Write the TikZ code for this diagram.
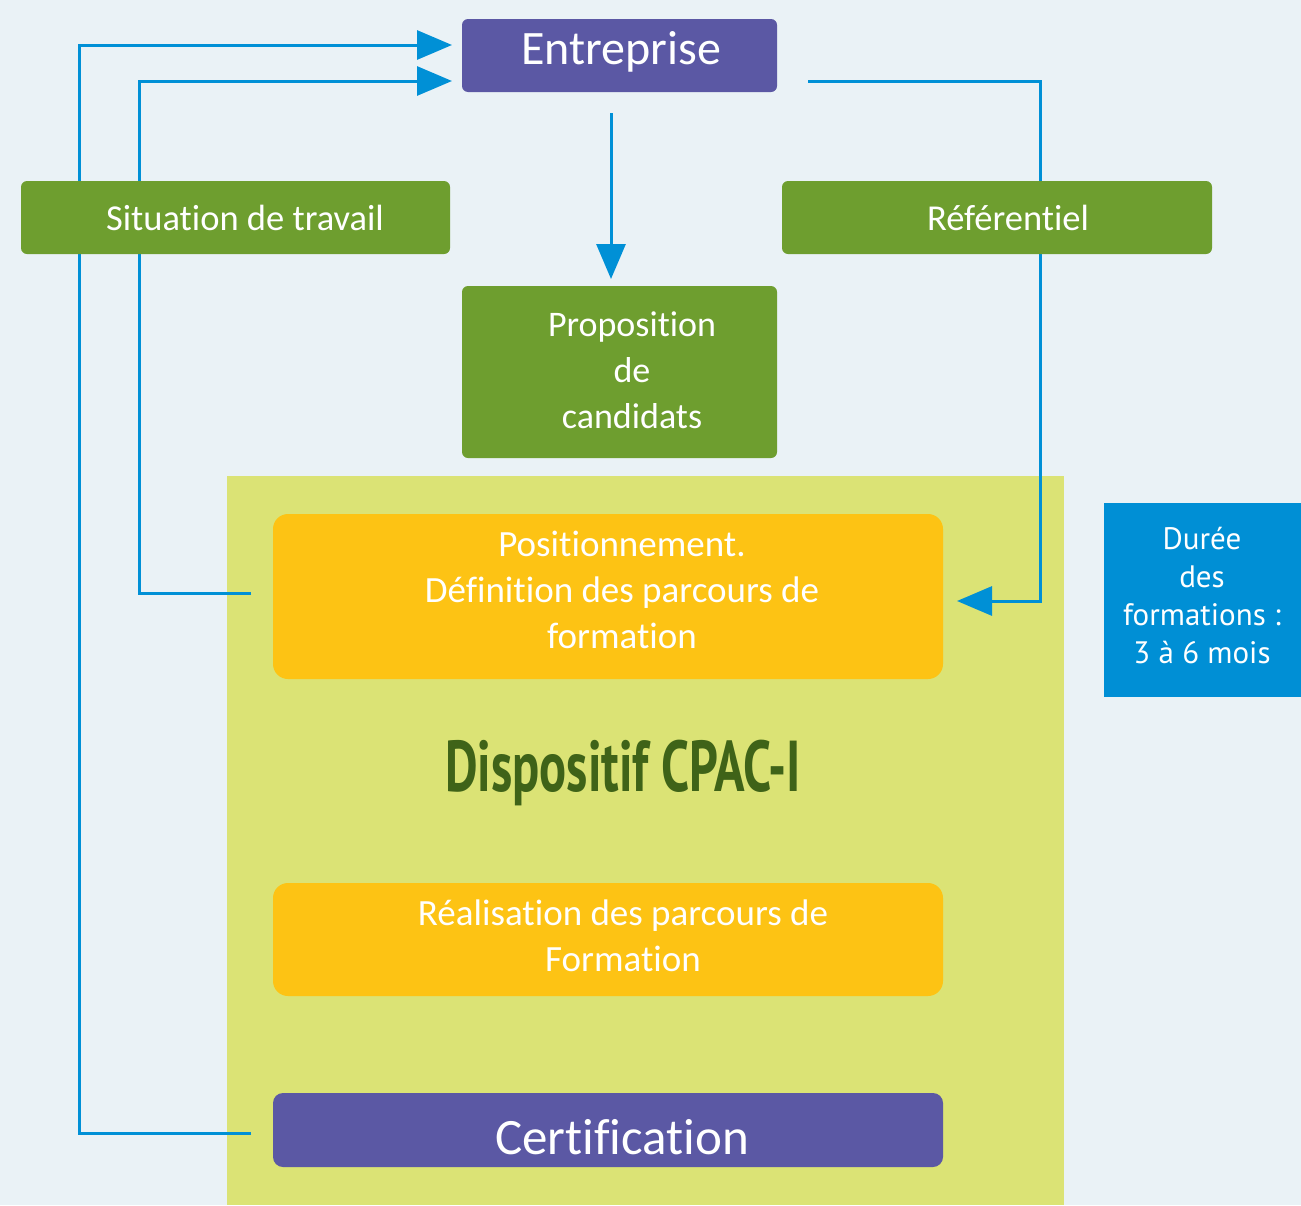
\documentclass[tikz,border=0pt]{standalone}
\usepackage{fontspec}
\setmainfont{Carlito}[Ligatures={NoCommon}]
\newfontfamily\durfont{PT Sans}
\usetikzlibrary{arrows.meta}
\definecolor{bgc}{HTML}{EAF2F6}
\definecolor{dispc}{HTML}{DBE375}
\definecolor{purp}{HTML}{5B58A4}
\definecolor{grn}{HTML}{6E9E2F}
\definecolor{orng}{HTML}{FDC314}
\definecolor{blu}{HTML}{008FD5}
\definecolor{dgrn}{HTML}{3F6318}
\definecolor{lnk}{HTML}{0090D6}
\tikzset{
  box/.style={inner sep=0pt, outer sep=0pt, rounded corners=6pt},
  purplebox/.style={box, fill=purp},
  greenbox/.style={box, fill=grn},
  orangebox/.style={box, fill=orng, rounded corners=15pt},
  txt/.style={text=white, align=center, inner sep=0pt},
  conn/.style={draw=lnk, line width=3pt},
  arr/.style={conn, -{Triangle[length=35pt,width=29pt]}}
}
\begin{document}
\begin{tikzpicture}[x=1pt,y=-1pt]
\fill[bgc] (0,0) rectangle (1301,1205);
\useasboundingbox (0,0) rectangle (1301,1205);
\node[fill=dispc, inner sep=0pt, minimum width=837pt, minimum height=729pt] (disp) at (645.5,840.5) {};

% coordinates for bends and tips
\coordinate (o1) at (79,1133);
\coordinate (o2) at (79,45);
\coordinate (t1) at (452,45);
\coordinate (i1) at (139,593);
\coordinate (i2) at (139,81);
\coordinate (t2) at (452,81);
\coordinate (r0) at (808,81);
\coordinate (r1) at (1040,81);
\coordinate (r2) at (1040,601);
\coordinate (t3) at (957,601);
\coordinate (s1) at (611,113);
\coordinate (t4) at (611,279);
\coordinate (p1) at (251,593);
\coordinate (c1) at (251,1133);

% boxes
\node[purplebox, minimum width=315pt, minimum height=73pt] (ent) at (619.5,55.5) {};
\node[orangebox, minimum width=670pt, minimum height=165pt] (pos) at (608,596.5) {};
\node[orangebox, minimum width=670pt, minimum height=113pt] (real) at (608,939.5) {};
\node[purplebox, rounded corners=10pt, minimum width=670pt, minimum height=74pt] (cert) at (608,1130) {};
\node[greenbox, minimum width=315pt, minimum height=172pt] (prop) at (619.5,372) {};
\node[fill=blu, inner sep=0pt, minimum width=197pt, minimum height=194pt] (dur) at (1202.5,600) {};

% connectors (behind green label boxes)
\draw[arr] (c1) -- (o1) -- (o2) -- (t1);
\draw[arr] (p1) -- (i1) -- (i2) -- (t2);
\draw[arr] (r0) -- (r1) -- (r2) -- (t3);
\draw[arr] (s1) -- (t4);

\node[greenbox, minimum width=429pt, minimum height=73pt] (sit) at (235.5,217.5) {};
\node[greenbox, minimum width=430pt, minimum height=73pt] (ref) at (997,217.5) {};

% texts
\node[txt, font=\fontsize{48}{56}\selectfont] (entT) at (621,52) {Entreprise};
\node[txt, font=\fontsize{36.5}{44}\selectfont] (sitT) at (245,218) {Situation de travail};
\node[txt, font=\fontsize{36.5}{44}\selectfont] (refT) at (1008,218) {Référentiel};
\node[txt, font=\fontsize{36}{46}\selectfont] (propT) at (632,370) {Proposition\\de\\candidats};
\node[txt, font=\fontsize{37}{46}\selectfont] (posT) at (622,590) {Positionnement.\\Définition des parcours de\\formation};
\node[txt, font=\fontsize{37}{46}\selectfont] (realT) at (623,936) {Réalisation des parcours de\\Formation};
\node[txt, font=\fontsize{51}{58}\selectfont] (certT) at (622,1137) {Certification};
\node[txt, font=\durfont\fontsize{31}{38}\selectfont] (durT) at (1202,596) {Durée\\des\\formations :\\3 à 6 mois};
\node[text=dgrn, inner sep=0pt, font=\durfont\bfseries\fontsize{72}{80}\selectfont] (dispT) at (623,773) {\scalebox{0.70}[1]{Dispositif CPAC-I}};
\end{tikzpicture}
\end{document}
